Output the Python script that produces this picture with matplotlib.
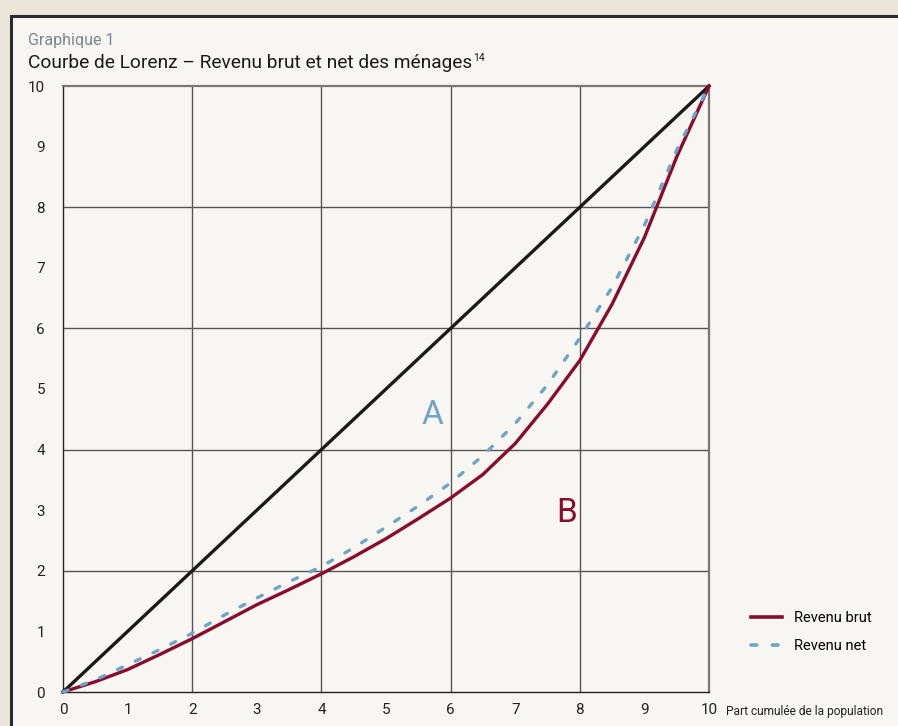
import matplotlib.pyplot as plt
from matplotlib.patches import Rectangle
from matplotlib.lines import Line2D

plt.rcParams['font.family'] = ['Roboto', 'DejaVu Sans']

# Part cumulée de la population (x) et part cumulée du revenu (y)
population = [0, 0.5, 1, 1.5, 2, 2.5, 3, 3.5, 4, 4.5, 5, 5.5, 6, 6.5, 7, 7.5, 8, 8.5, 9, 9.5, 10]
revenu_brut = [0, 0.17, 0.37, 0.62, 0.88, 1.16, 1.44, 1.69, 1.95, 2.23, 2.53, 2.86, 3.2,
               3.59, 4.1, 4.75, 5.47, 6.4, 7.5, 8.83, 10]
revenu_net = [0, 0.2, 0.45, 0.7, 0.97, 1.27, 1.55, 1.82, 2.07, 2.38, 2.72, 3.07, 3.45,
              3.9, 4.43, 5.07, 5.84, 6.68, 7.7, 8.94, 10]
egalite = [0, 10]

ticks = list(range(11))
grille = [2, 4, 6, 8]

rouge = '#8a0a30'
bleu = '#6fa4c2'
tirets = (0, (1.6, 4.3))

fig = plt.figure(figsize=(8.98, 7.26), dpi=100, facecolor='#ebe4d9')

# cadre clair
fig.patches.append(Rectangle((11 / 898, -0.01), 1.0, 1 - 16 / 726 + 0.01,
                             transform=fig.transFigure, facecolor='#f7f6f2',
                             edgecolor='#2b2b2b', linewidth=2.2, zorder=-10))

ax = fig.add_axes([63 / 898, 1 - 692 / 726, 646 / 898, 606 / 726])
ax.set_facecolor('none')

for g in grille:
    ax.axvline(g, color='#555555', lw=1.0, zorder=1)
    ax.axhline(g, color='#555555', lw=1.0, zorder=1)

ax.plot(egalite, egalite, color='#1a1a1a', lw=2.4, clip_on=False, zorder=3)
ax.plot(population, revenu_brut, color=rouge, lw=2.4, clip_on=False, zorder=4)
ax.plot(population, revenu_net, color=bleu, lw=2.4, linestyle=tirets,
        dash_capstyle='round', clip_on=False, zorder=5)

ax.set_xlim(0, 10)
ax.set_ylim(0, 10)
ax.set_xticks(ticks)
ax.set_yticks(ticks)
ax.tick_params(axis='x', length=0, pad=8, labelsize=11, colors='#222222')
ax.tick_params(axis='y', length=0, pad=13, labelsize=11, colors='#222222')

for s in ['left', 'bottom']:
    ax.spines[s].set_color('#222222')
    ax.spines[s].set_linewidth(1.0)
for s in ['top', 'right']:
    ax.spines[s].set_color('#777777')
    ax.spines[s].set_linewidth(1.6)

ax.text(5.72, 4.57, 'A', color=bleu, fontsize=24, ha='center', va='center')
ax.text(7.8, 2.95, 'B', color=rouge, fontsize=24, ha='center', va='center')

fig.text(28 / 898, 1 - 40 / 726, 'Graphique 1', color='#7b8791', fontsize=11.5, va='center')
titre = fig.text(28 / 898, 1 - 63 / 726, 'Courbe de Lorenz – Revenu brut et net des ménages',
                 color='#1a1a1a', fontsize=13.8, va='center')
fig.canvas.draw()
bb = titre.get_window_extent()
fig.text(bb.x1 / 898 + 1 / 898, 1 - 58 / 726, '14', color='#1a1a1a', fontsize=7.5, va='center')
fig.text(726 / 898, 1 - 712 / 726, 'Part cumulée de la population', color='#222222',
         fontsize=8.6, va='center')

handles = [Line2D([], [], color=rouge, lw=2.6),
           Line2D([], [], color=bleu, lw=2.6, linestyle=tirets, dash_capstyle='round')]
fig.legend(handles, ['Revenu brut', 'Revenu net'], loc='upper left',
           bbox_to_anchor=(744 / 898, 1 - 604 / 726), frameon=False, fontsize=10.5,
           handlelength=2.1, handletextpad=0.8, labelspacing=0.95, borderpad=0)

fig.savefig('out.png', dpi=100, facecolor=fig.get_facecolor())
